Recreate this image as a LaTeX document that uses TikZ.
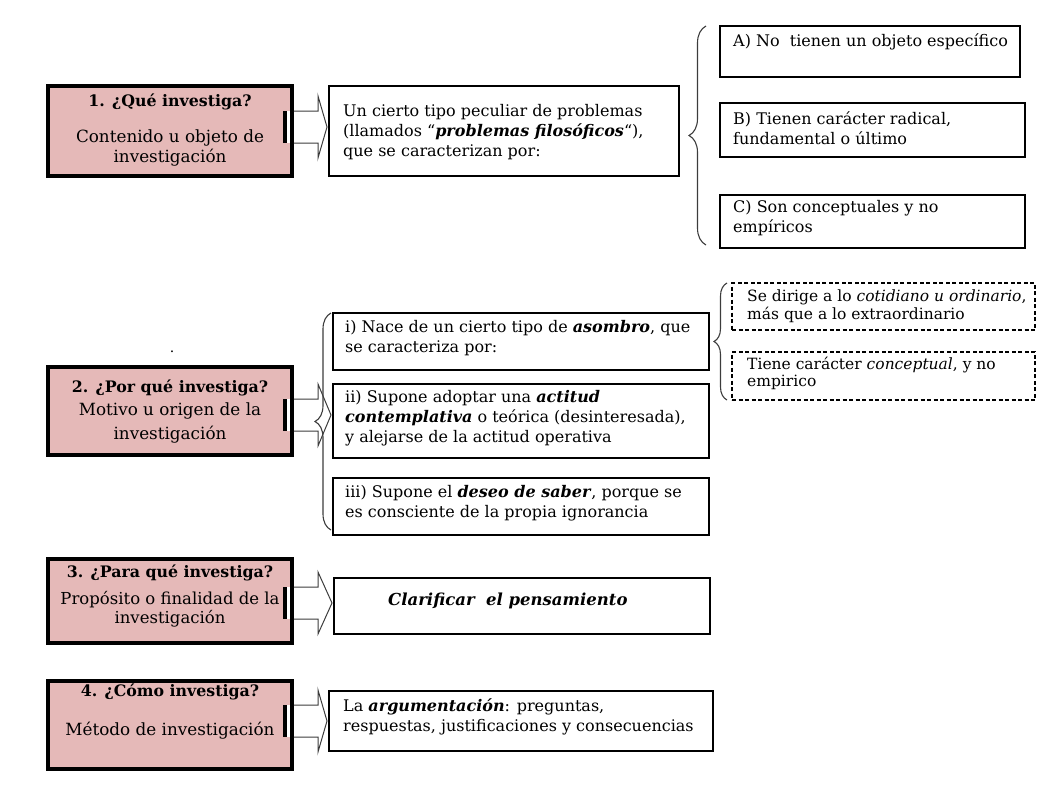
\documentclass[tikz,border=0pt]{standalone}
\usepackage{fontspec}
\setmainfont{DejaVu Serif}
\usetikzlibrary{calc,decorations.pathreplacing}
\definecolor{pinkfill}{RGB}{229,185,184}
\definecolor{linegray}{RGB}{60,60,60}
\newcommand\blockarr[3]{%
  \coordinate (#1-a) at ($(#1.east)+(0,#3)$);
  \fill[black] ($(#1-a)+(-9.5,-16)$) rectangle ($(#1-a)+(-4.8,16)$);
  \fill[white] ($(#1-a)+(-4.8,-16)$) rectangle ($(#1-a)+(-1.8,16)$);
  \draw[arrowline] ($(#1-a)+(1.8,-16)$) -- ($(#1-a)+(26,-16)$) -- ($(#1-a)+(26,-31)$)
     -- ($(#2.west |- #1-a)+(-2,0)$) -- ($(#1-a)+(26,31)$) -- ($(#1-a)+(26,16)$) -- ($(#1-a)+(1.8,16)$);
}
\begin{document}
\begin{tikzpicture}[x=1pt,y=-1pt,
  pinkbox/.style={draw=black, line width=3.5pt, fill=pinkfill, inner sep=0pt, outer sep=0pt, anchor=north west},
  tbox/.style={draw=black, line width=1.3pt, fill=white, inner sep=0pt, outer sep=0pt, anchor=north west},
  dbox/.style={draw=black, line width=1.2pt, dash pattern=on 4pt off 2.5pt, inner sep=0pt, outer sep=0pt, anchor=north west},
  arrowline/.style={draw=linegray, line width=1pt, line join=miter},
  bracestyle/.style={draw=linegray, line width=1.1pt, decorate},
  txt/.style={inner sep=0pt, anchor=north west, align=left, font=\fontsize{16}{20}\selectfont},
  smalltxt/.style={inner sep=0pt, anchor=north west, align=left, font=\fontsize{15.5}{17}\selectfont},
  ptitle/.style={inner sep=0pt, anchor=base, font=\bfseries\fontsize{15.8}{18}\selectfont},
  pbody/.style={inner sep=0pt, anchor=north, align=center},
]
\useasboundingbox (0,0) rectangle (1058,793);

% pink question boxes
\node[pinkbox, minimum width=244pt, minimum height=90pt] (p1) at (48,86) {};
\node[pinkbox, minimum width=244pt, minimum height=88pt] (p2) at (48,367) {};
\node[pinkbox, minimum width=244pt, minimum height=84pt] (p3) at (48,559) {};
\node[pinkbox, minimum width=244pt, minimum height=88pt] (p4) at (48,681) {};

% text boxes
\node[tbox, minimum width=350pt, minimum height=90pt] (t1) at (329,86) {};
\node[tbox, minimum width=300pt, minimum height=51pt] (ta) at (720,26) {};
\node[tbox, minimum width=305pt, minimum height=54pt] (tb) at (720,103) {};
\node[tbox, minimum width=305pt, minimum height=53pt] (tc) at (720,195) {};
\node[tbox, minimum width=376pt, minimum height=57pt] (ti) at (333,313) {};
\node[tbox, minimum width=376pt, minimum height=74pt] (tii) at (333,384) {};
\node[tbox, minimum width=376pt, minimum height=57pt] (tiii) at (333,478) {};
\node[dbox, minimum width=303pt, minimum height=47pt] (da) at (732,283) {};
\node[dbox, minimum width=303pt, minimum height=48pt] (db) at (732,352) {};
\node[tbox, minimum width=376pt, minimum height=56pt] (tcl) at (334,578) {};
\node[tbox, minimum width=384pt, minimum height=60pt] (targ) at (329,691) {};

% block arrows
\blockarr{p1}{t1}{-4}
\blockarr{p2}{tii}{4}
\blockarr{p3}{tcl}{2}
\blockarr{p4}{targ}{-4}

% braces
\draw[bracestyle, decoration={brace, amplitude=17pt}] ($(tc.south west)+(-14,-3)$) -- ($(ta.north west)+(-14,0)$);
\draw[bracestyle, decoration={brace, amplitude=16pt}] ($(tiii.south west)+(-2,-5)$) -- ($(ti.north west)+(-2,0)$);
\draw[bracestyle, decoration={brace, amplitude=13pt}] ($(db.south west)+(-5,0)$) -- ($(da.north west)+(-5,0)$);

% pink box texts
\node[ptitle] (p1t) at (170,106) {1. ¿Qué investiga?};
\node[pbody, font=\fontsize{16.8}{19}\selectfont] (p1b) at (170,128.7) {\strut Contenido u objeto de\\ investigación};
\node[ptitle] (p2t) at (170,392) {2. ¿Por qué investiga?};
\node[pbody, font=\fontsize{16.8}{24}\selectfont] (p2b) at (170,398.2) {\strut Motivo u origen de la\\ investigación};
\node[ptitle] (p3t) at (170,577) {3. ¿Para qué investiga?};
\node[pbody, font=\fontsize{16.5}{19}\selectfont] (p3b) at (170,590.7) {\strut Propósito o finalidad de la\\ investigación};
\node[ptitle] (p4t) at (170,696) {4. ¿Cómo investiga?};
\node[pbody, font=\fontsize{16.8}{19}\selectfont] (p4b) at (170,721.7) {\strut Método de investigación};

\node[inner sep=0pt, anchor=base, font=\fontsize{14}{16}\selectfont] (dot) at (172,352) {.};

% text box contents
\node[txt] (t1x) at (343,102) {\strut Un cierto tipo peculiar de problemas\\ (llamados “\textbf{\textit{problemas filosóficos}}“),\\ que se caracterizan por:};
\node[txt] (tax) at (733,32) {\strut A) No\ \ tienen un objeto específico};
\node[txt] (tbx) at (733,110) {\strut B) Tienen carácter radical,\\ fundamental o último};
\node[txt] (tcx) at (733,198) {\strut C) Son conceptuales y no\\ empíricos};
\node[txt] (tix) at (345,318) {\strut i) Nace de un cierto tipo de \textbf{\textit{asombro}}, que\\ se caracteriza por:};
\node[txt] (tiix) at (345,388) {\strut ii) Supone adoptar una \textbf{\textit{actitud}}\\ \textbf{\textit{contemplativa}} o teórica (desinteresada),\\ y alejarse de la actitud operativa};
\node[txt] (tiiix) at (345,483) {\strut iii) Supone el \textbf{\textit{deseo de saber}}, porque se\\ es consciente de la propia ignorancia};
\node[smalltxt] (dax) at (747,289.1) {\strut Se dirige a lo \textit{cotidiano u ordinario},\\ más que a lo extraordinario};
\node[smalltxt] (dbx) at (747,357.1) {\strut Tiene carácter \textit{conceptual}, y no\\ empirico};
\node[inner sep=0pt, anchor=base west, font=\bfseries\itshape\fontsize{16.5}{20}\selectfont] (tclx) at (388,605) {Clarificar\ \ el pensamiento};
\node[txt] (targx) at (343,697) {\strut La \textbf{\textit{argumentación}}: preguntas,\\ respuestas, justificaciones y consecuencias};
\end{tikzpicture}
\end{document}
